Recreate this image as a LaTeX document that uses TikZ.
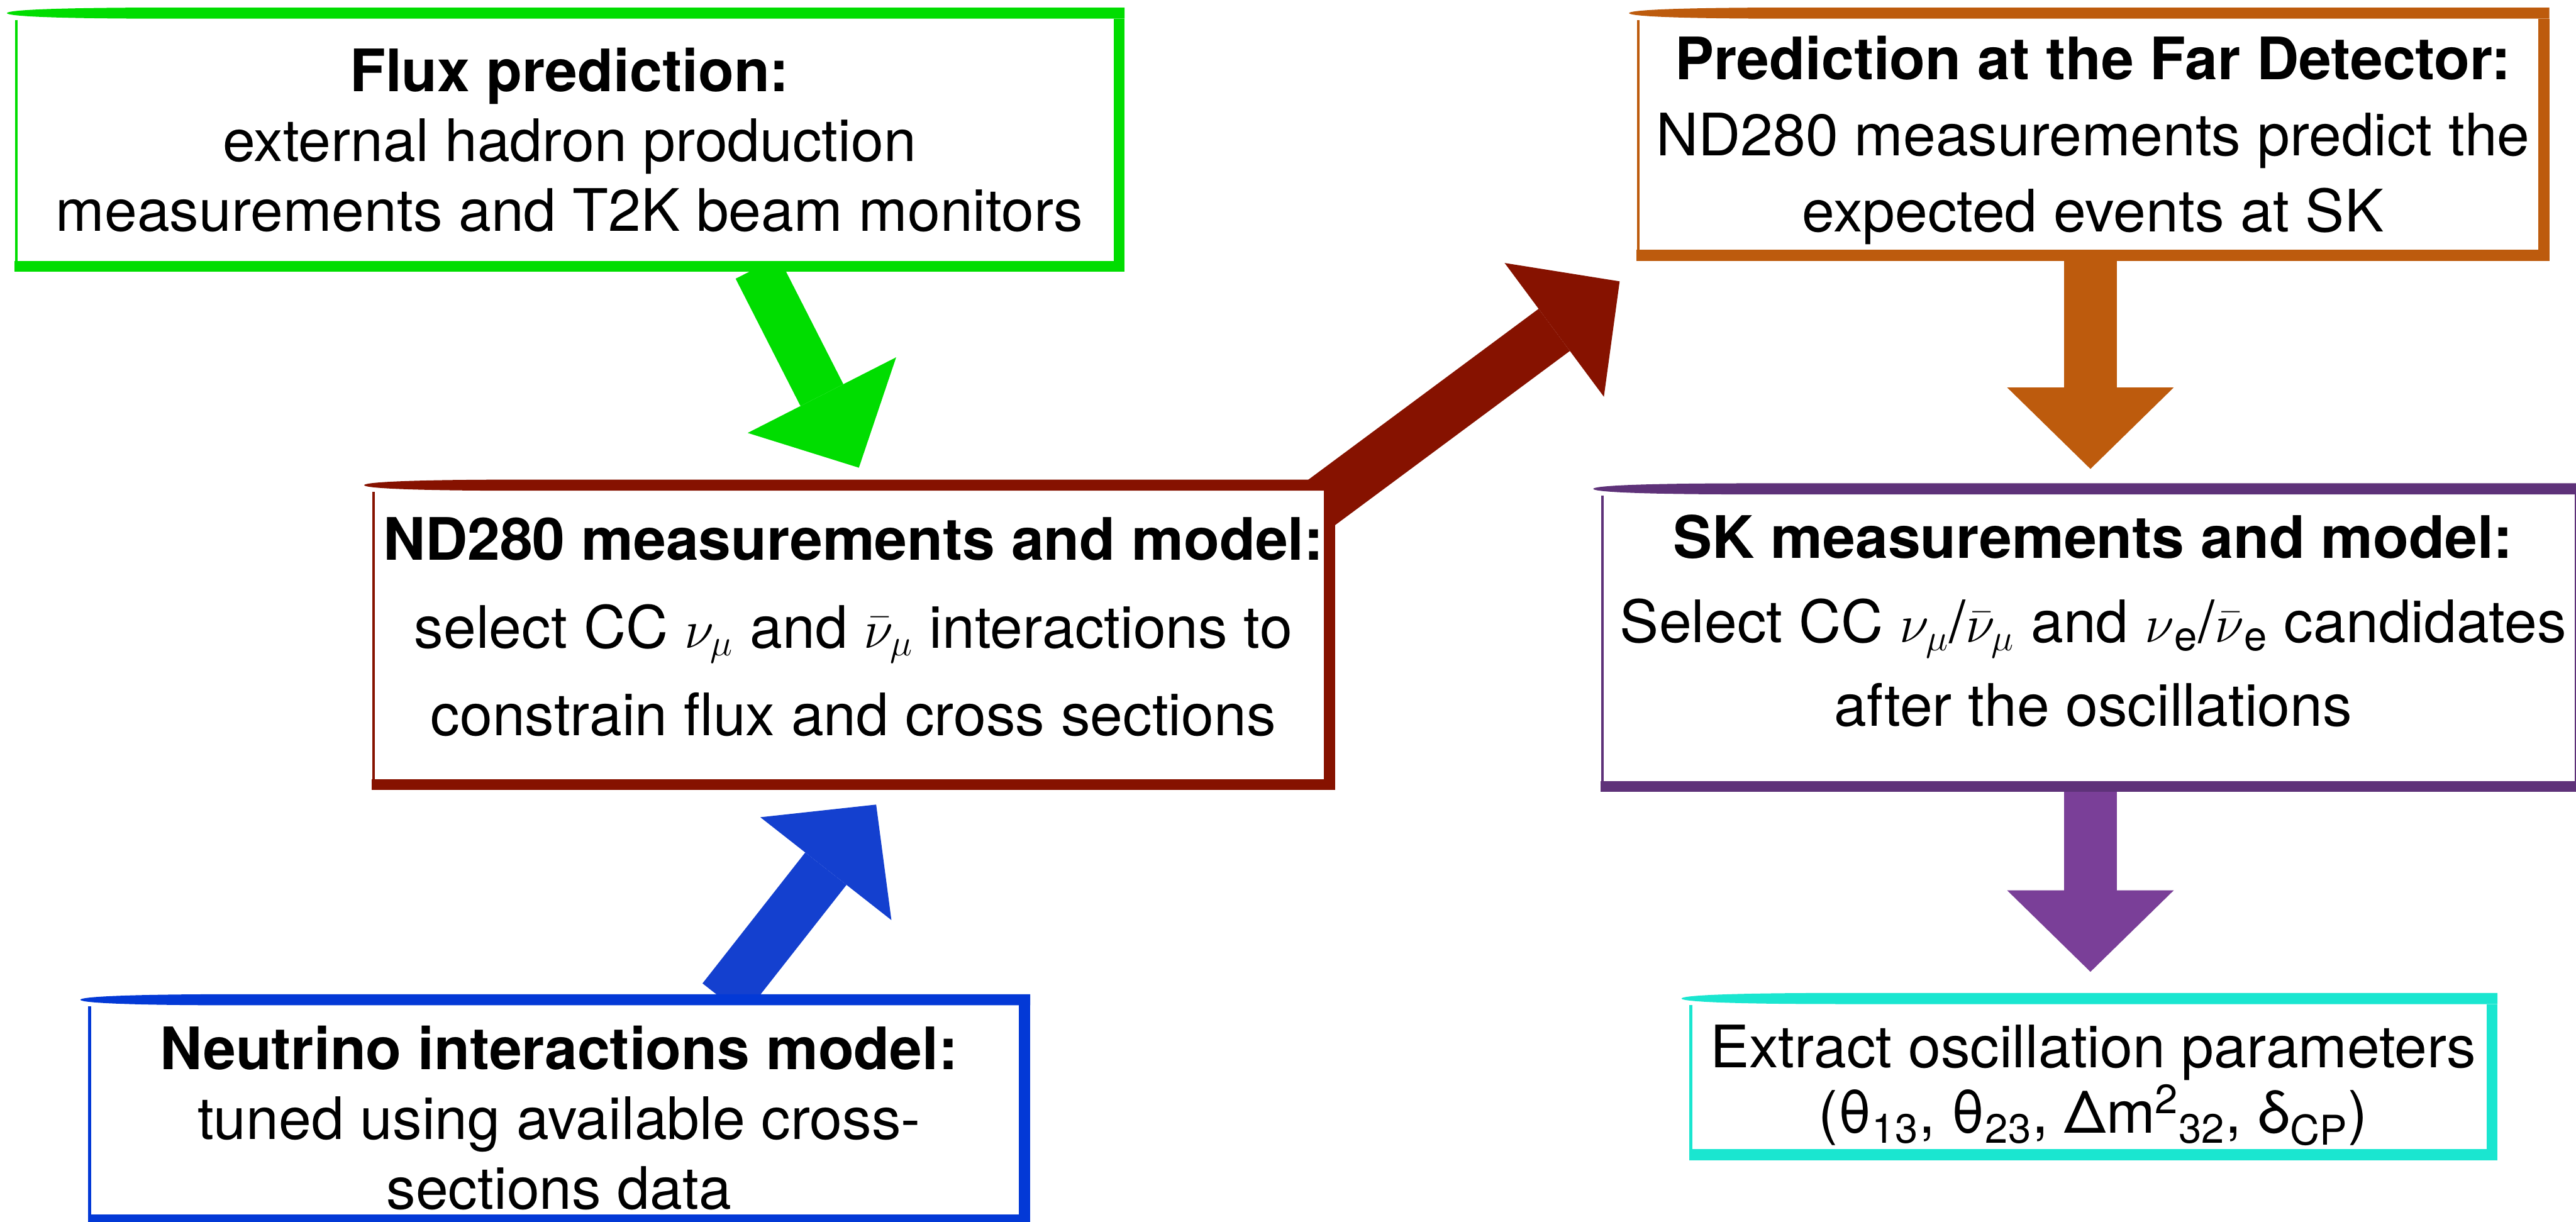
\documentclass[tikz,border=0pt]{standalone}
\usepackage{fontspec}
\setmainfont{TeX Gyre Heros}
\usetikzlibrary{arrows.meta,backgrounds}

\definecolor{fluxgreen}{HTML}{00DD00}
\definecolor{ndred}{HTML}{861200}
\definecolor{nublue}{HTML}{0339D6}
\definecolor{nuarrow}{HTML}{1440CF}
\definecolor{farorange}{HTML}{BD5B0D}
\definecolor{skpurple}{HTML}{5E3279}
\definecolor{skarrow}{HTML}{7A3F98}
\definecolor{osccyan}{HTML}{1AE6D0}

\tikzset{
  stage/.style={rectangle, fill=white, inner sep=0pt},
  stagetext/.style={inner sep=0pt, align=center, font=\fontsize{27}{#1}\selectfont},
  bigarrow/.style={#1, line width=0.85cm, -{Triangle[length=1.32cm, width=2.7cm, line width=0pt]}},
}

% brush-like frame round a stage node: #1 node, #2 colour
\newcommand{\brushframe}[2]{%
  \fill[#2] (#1.north east) -- ([xshift=2.5cm]#1.north west)
    .. controls ([xshift=0.4cm]#1.north west) and ([xshift=-0.12cm,yshift=-0.05cm]#1.north west)
    .. ([xshift=-0.12cm,yshift=-0.09cm]#1.north west)
    .. controls ([xshift=-0.12cm,yshift=-0.13cm]#1.north west) and ([xshift=0.4cm,yshift=-0.18cm]#1.north west)
    .. ([xshift=2.5cm,yshift=-0.18cm]#1.north west) -- ([yshift=-0.18cm]#1.north east) -- cycle;
  \fill[#2] ([yshift=-0.18cm]#1.north east) rectangle ([xshift=-0.18cm]#1.south east);
  \fill[#2] (#1.south west) rectangle ([yshift=0.18cm]#1.south east);
  \draw[#2, line width=1.2pt] ([xshift=0.03cm,yshift=-0.2cm]#1.north west) -- ([xshift=0.03cm]#1.south west);
}

\begin{document}
\begin{tikzpicture}
  \useasboundingbox (0,0) rectangle (41.75,19.80);

  % Left column: flux, near detector, interactions
  \node[stage, minimum width=17.98cm, minimum height=4.27cm] (flux) at (9.23,17.535) {};
  \node[stage, minimum width=15.60cm, minimum height=5.02cm] (nd) at (13.83,9.51) {};
  \node[stage, minimum width=15.26cm, minimum height=3.74cm] (nu) at (9.06,1.81) {};

  % Right column: far detector prediction, SK, oscillation fit
  \node[stage, minimum width=14.78cm, minimum height=4.09cm] (far) at (33.92,17.625) {};
  \node[stage, minimum width=15.95cm, minimum height=4.99cm] (sk) at (33.925,9.465) {};
  \node[stage, minimum width=13.09cm, minimum height=2.70cm] (osc) at (33.925,2.35) {};

  % Frames
  \brushframe{flux}{fluxgreen}
  \brushframe{nd}{ndred}
  \brushframe{nu}{nublue}
  \brushframe{far}{farorange}
  \brushframe{sk}{skpurple}
  \brushframe{osc}{osccyan}

  % Texts
  \node[stagetext=32.2] (fluxtext) at (flux.center)
    {\textbf{Flux prediction:}\\ external hadron production\\ measurements and T2K beam monitors};
  \node[stagetext=40.4] (ndtext) at ([yshift=0.13cm]nd.center)
    {\textbf{ND280 measurements and model:}\\ select CC $\nu_\mu$ and $\bar{\nu}_\mu$ interactions to\\ constrain flux and cross sections};
  \node[stagetext=32.2] (nutext) at ([yshift=-0.13cm]nu.center)
    {\textbf{Neutrino interactions model:}\\ tuned using available cross-\\ sections data};
  \node[stagetext=35.1] (fartext) at ([yshift=-0.1cm]far.center)
    {\textbf{Prediction at the Far Detector:}\\ ND280 measurements predict the\\ expected events at SK};
  \node[stagetext=38.7] (sktext) at ([yshift=0.27cm]sk.center)
    {\textbf{SK measurements and model:}\\ Select CC $\nu_\mu$/$\bar{\nu}_\mu$ and $\nu$\textsubscript{e}/$\bar{\nu}$\textsubscript{e} candidates\\ after the oscillations};
  \node[stagetext=30] (osctext) at ([yshift=-0.14cm]osc.center)
    {Extract oscillation parameters\\ (θ\textsubscript{13}, θ\textsubscript{23}, Δm\textsuperscript{2}\textsubscript{32}, δ\textsubscript{CP})};

  % Arrow ends
  \coordinate (fluxout) at (12.27,15.46);
  \coordinate (ndtop) at (13.92,12.22);
  \coordinate (ndout) at (21.29,11.56);
  \coordinate (farin) at (26.25,15.24);
  \coordinate (nuout) at (11.72,3.60);
  \coordinate (ndbottom) at (14.20,6.76);
  \coordinate (farout) at (33.88,15.62);
  \coordinate (skin) at (33.88,12.20);
  \coordinate (skout) at (33.88,7.00);
  \coordinate (oscin) at (33.88,4.05);

  % Arrows, behind the boxes
  \begin{scope}[on background layer]
    \fill[white] (0,0) rectangle (41.75,19.80);
    \draw[bigarrow=fluxgreen, line width=0.78cm] (fluxout) -- (ndtop);
    \draw[bigarrow=ndred] (ndout) -- (farin);
    \draw[bigarrow=nuarrow] (nuout) -- (ndbottom);
    \draw[bigarrow=farorange] (farout) -- (skin);
    \draw[bigarrow=skarrow] (skout) -- (oscin);
  \end{scope}
\end{tikzpicture}
\end{document}
